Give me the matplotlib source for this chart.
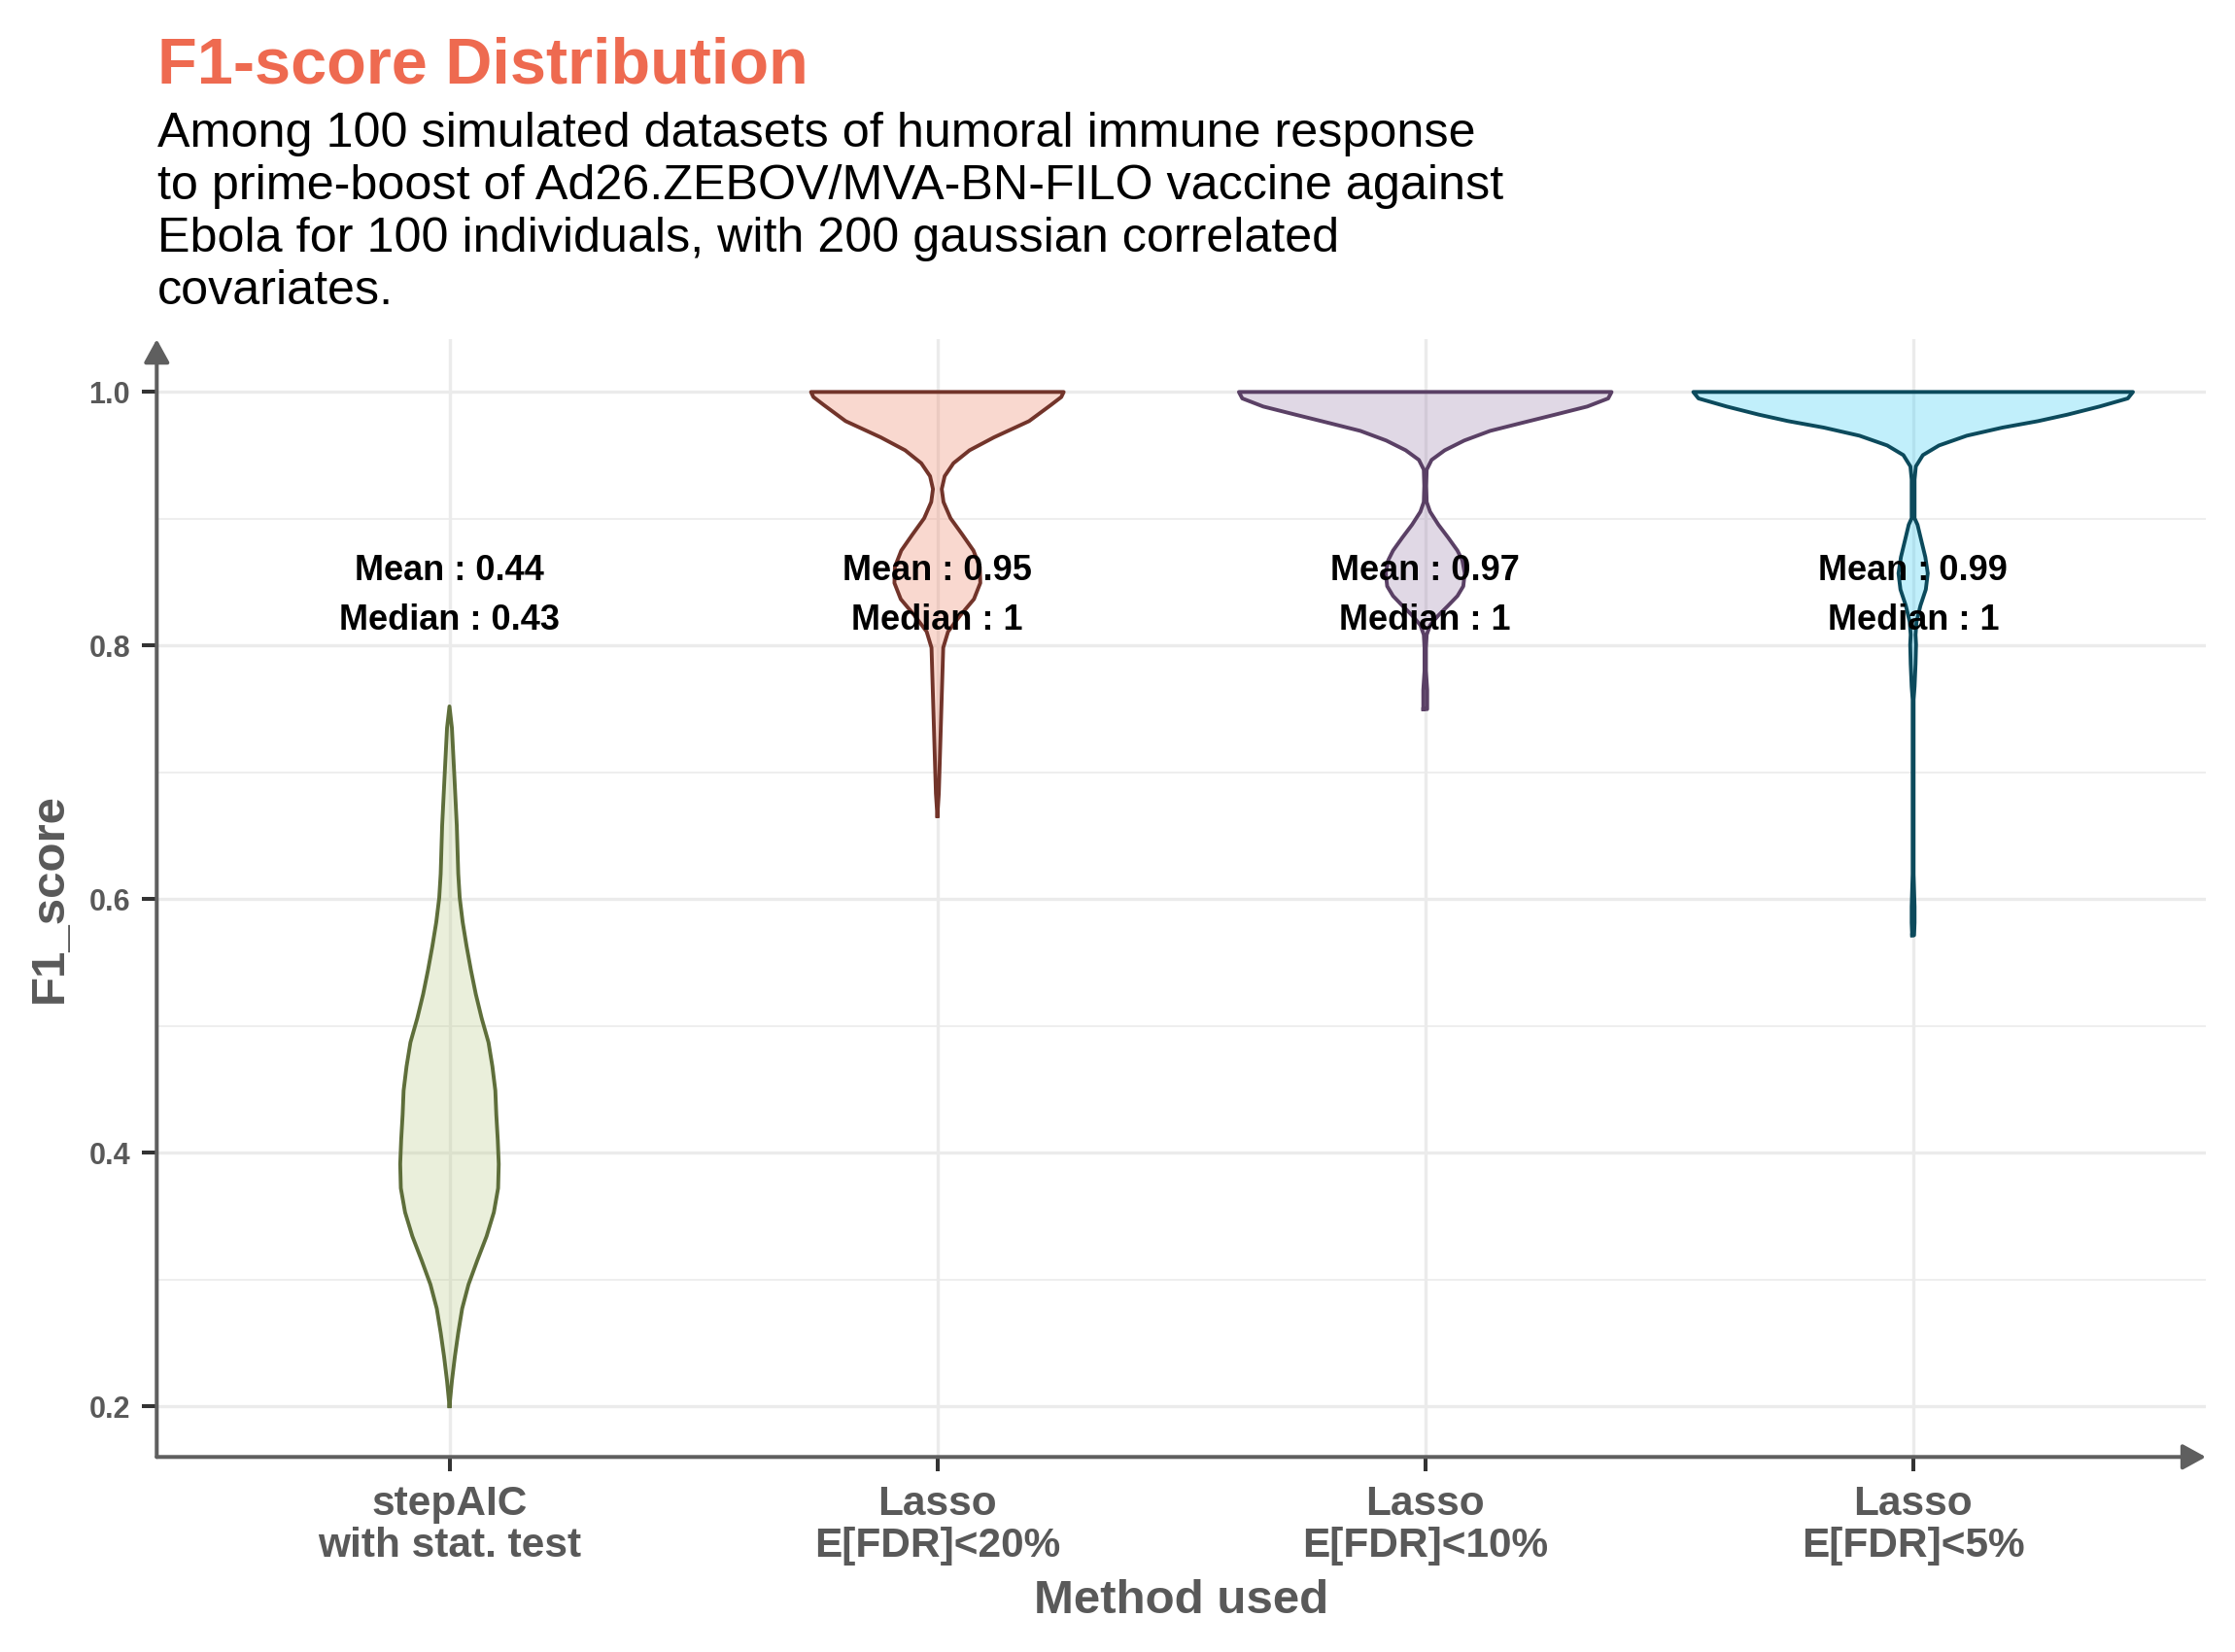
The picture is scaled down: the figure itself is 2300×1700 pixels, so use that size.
import matplotlib
matplotlib.use('Agg')
import matplotlib.pyplot as plt
from matplotlib.ticker import FixedLocator

plt.rcParams['font.family'] = ['Liberation Sans', 'DejaVu Sans']

# ---------------- data ----------------
methods = ['stepAIC\nwith stat. test', 'Lasso\nE[FDR]<20%', 'Lasso\nE[FDR]<10%', 'Lasso\nE[FDR]<5%']
means = [0.44, 0.95, 0.97, 0.99]
medians = [0.43, 1, 1, 1]

# violin outlines: F1 values and half-widths (category units)
v1_y = [0.20, 0.22, 0.239, 0.258, 0.277, 0.296, 0.315, 0.334, 0.353, 0.372, 0.391, 0.41,
        0.43, 0.449, 0.468, 0.487, 0.506, 0.525, 0.544, 0.563, 0.582, 0.601, 0.62, 0.658,
        0.697, 0.735, 0.752]
v1_w = [0.0, 0.005, 0.011, 0.018, 0.026, 0.039, 0.057, 0.076, 0.091, 0.0997, 0.101, 0.099,
        0.096, 0.094, 0.088, 0.080, 0.066, 0.054, 0.044, 0.035, 0.027, 0.021, 0.018, 0.015,
        0.010, 0.005, 0.0]

v2_y = [0.6655, 0.6834, 0.7089, 0.7344, 0.76, 0.7855, 0.7983, 0.811, 0.8238, 0.8366, 0.8493,
        0.8621, 0.8749, 0.8876, 0.9004, 0.9132, 0.9234, 0.9336, 0.9438, 0.954, 0.9642, 0.977,
        0.9898, 0.996, 1.0]
v2_w = [0.0, 0.003, 0.005, 0.007, 0.009, 0.011, 0.012, 0.022, 0.047, 0.075, 0.088, 0.087,
        0.074, 0.051, 0.027, 0.0126, 0.009, 0.015, 0.033, 0.066, 0.116, 0.188, 0.233, 0.254,
        0.259]

v3_y = [0.7498, 0.765, 0.78, 0.7983, 0.8085, 0.8161, 0.8238, 0.8315, 0.8391, 0.8468, 0.857,
        0.8672, 0.8749, 0.8851, 0.8953, 0.9055, 0.9132, 0.9259, 0.9387, 0.9464, 0.954, 0.9617,
        0.9693, 0.9757, 0.9821, 0.9885, 0.9949, 1.0]
v3_w = [0.004, 0.004, 0.0015, 0.0015, 0.003, 0.010, 0.027, 0.047, 0.066, 0.078, 0.081, 0.076,
        0.066, 0.047, 0.027, 0.010, 0.003, 0.002, 0.003, 0.013, 0.040, 0.080, 0.133, 0.199,
        0.266, 0.332, 0.375, 0.382]

v4_y = [0.5715, 0.5813, 0.594, 0.6068, 0.6195, 0.7574, 0.7676, 0.7855, 0.8008, 0.8085, 0.8187,
        0.8315, 0.8442, 0.857, 0.8698, 0.8825, 0.8953, 0.9004, 0.9106, 0.931, 0.9413, 0.9502,
        0.9578, 0.9655, 0.9719, 0.977, 0.9821, 0.9885, 0.9949, 1.0]
v4_w = [0.002, 0.003, 0.003, 0.002, 0.001, 0.001, 0.003, 0.005, 0.006, 0.005, 0.007, 0.015,
        0.026, 0.030, 0.025, 0.017, 0.009, 0.003, 0.003, 0.003, 0.0056, 0.020, 0.053, 0.110,
        0.183, 0.256, 0.316, 0.382, 0.44, 0.4506]

violin_y = [v1_y, v2_y, v3_y, v4_y]
violin_w = [v1_w, v2_w, v3_w, v4_w]
fill_colors = ['#BCCA8A', '#EE8062', '#9B80AC', '#34CDF5']
edge_colors = ['#5E6E3A', '#72342A', '#5A4065', '#0C4A5C']

y_major = [0.2, 0.4, 0.6, 0.8, 1.0]
y_minor = [0.3, 0.5, 0.7, 0.9]

# ---------------- figure ----------------
fig = plt.figure(figsize=(23, 17), dpi=100)
ax = fig.add_axes([0.07013, 0.11806, 0.91683, 0.6766])
ax.set_xlim(0.4, 4.6)
ax.set_ylim(0.16, 1.0416)

grid_c = '#EBEBEB'
ax.set_axisbelow(True)
ax.xaxis.set_major_locator(FixedLocator([1, 2, 3, 4]))
ax.yaxis.set_major_locator(FixedLocator(y_major))
ax.yaxis.set_minor_locator(FixedLocator(y_minor))
ax.grid(which='major', color=grid_c, lw=2.4)
ax.grid(which='minor', axis='y', color=grid_c, lw=1.2)

for i, (yy, ww) in enumerate(zip(violin_y, violin_w)):
    pos = i + 1
    left = [pos - w for w in ww]
    right = [pos + w for w in ww]
    ax.fill_betweenx(yy, left, right, facecolor=fill_colors[i], alpha=0.3, edgecolor='none', zorder=2)
    xs = left + right[::-1] + [left[0]]
    ys = list(yy) + list(yy)[::-1] + [yy[0]]
    ax.plot(xs, ys, color=edge_colors[i], lw=2.8, solid_joinstyle='round', zorder=3)

for i in range(4):
    ax.text(i + 1, 0.8514, f"Mean : {means[i]:g}", ha='center', va='baseline',
            fontsize=26, fontweight='bold', color='black', zorder=5)
    ax.text(i + 1, 0.8128, f"Median : {medians[i]:g}", ha='center', va='baseline',
            fontsize=26, fontweight='bold', color='black', zorder=5)

for s in ax.spines.values():
    s.set_visible(False)

axis_c = '#5F5F5F'
arrow_kw = dict(arrowstyle='-|>,head_length=0.4,head_width=0.22', lw=2.9, color=axis_c,
                shrinkA=0, shrinkB=0, mutation_scale=36)
ax.annotate('', xy=(1.0, 0), xytext=(0, 0), xycoords='axes fraction',
            textcoords='axes fraction', arrowprops=arrow_kw, annotation_clip=False)
ax.annotate('', xy=(0, 1.0), xytext=(0, 0), xycoords='axes fraction',
            textcoords='axes fraction', arrowprops=arrow_kw, annotation_clip=False)

label_c = '#595959'
ax.set_xticks([1, 2, 3, 4])
ax.set_xticklabels(methods, fontsize=30.5, fontweight='bold', color=label_c, linespacing=1.12)
ax.set_yticks(y_major)
ax.set_yticklabels([f"{v:.1f}" for v in y_major], fontsize=22, fontweight='bold', color=label_c)
ax.tick_params(axis='both', which='major', length=10.5, width=2.9, color='#333333')
ax.tick_params(axis='x', pad=10)
ax.tick_params(axis='y', pad=9)
ax.tick_params(which='minor', length=0)

fig.text(51 / 2300, 1 - 924 / 1700, 'F1_score', rotation=90, ha='center', va='center',
         fontsize=35.5, fontweight='bold', color=label_c)
fig.text(1215.6 / 2300, 1 - 1660 / 1700, 'Method used', ha='center', va='baseline',
         fontsize=35.5, fontweight='bold', color=label_c)

fig.text(162 / 2300, 1 - 37.5 / 1700, 'F1-score Distribution', ha='left', va='top',
         fontsize=48, fontweight='bold', color='#EE6A50')
fig.text(162 / 2300, 1 - 115 / 1700,
         'Among 100 simulated datasets of humoral immune response\n'
         'to prime-boost of Ad26.ZEBOV/MVA-BN-FILO vaccine against\n'
         'Ebola for 100 individuals, with 200 gaussian correlated\n'
         'covariates.', ha='left', va='top', fontsize=36.2, color='black', linespacing=1.22)

fig.savefig('out.png', dpi=100, facecolor='white')
